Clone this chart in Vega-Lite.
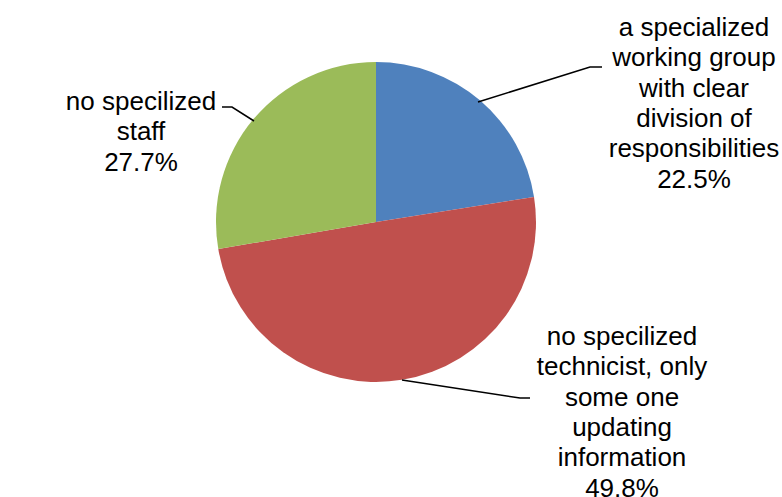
{
  "$schema": "https://vega.github.io/schema/vega-lite/v6.json",
  "autosize": "none",
  "width": 752,
  "height": 444,
  "padding": {"left": 0, "top": 0, "right": 30, "bottom": 53},
  "background": "white",
  "config": {"view": {"stroke": null}},
  "datasets": {
    "pie": [
      {"category": "a specialized working group with clear division of responsibilities", "share": 22.5, "idx": 1},
      {"category": "no specilized technicist, only some one updating information", "share": 49.8, "idx": 2},
      {"category": "no specilized staff", "share": 27.7, "idx": 3}
    ],
    "leaders": [
      {"seg": "a", "step": 1, "u": 0.6375, "v": 0.75},
      {"seg": "a", "step": 2, "u": 1.3375, "v": 0.96875},
      {"seg": "a", "step": 3, "u": 1.4125, "v": 0.96875},
      {"seg": "b", "step": 1, "u": 0.1625, "v": -0.9875},
      {"seg": "b", "step": 2, "u": 0.9, "v": -1.1},
      {"seg": "b", "step": 3, "u": 0.9625, "v": -1.1},
      {"seg": "c", "step": 1, "u": -0.7625, "v": 0.63125},
      {"seg": "c", "step": 2, "u": -0.9, "v": 0.71875},
      {"seg": "c", "step": 3, "u": -0.9625, "v": 0.71875}
    ],
    "labels": [
      {"u": 1.9875, "v": 1.2125, "label": "a specialized\nworking group\nwith clear\ndivision of\nresponsibilities\n22.5%"},
      {"u": 1.5375, "v": -0.7188, "label": "no specilized\ntechnicist, only\nsome one\nupdating\ninformation\n49.8%"},
      {"u": -1.46875, "v": 0.75, "label": "no specilized\nstaff\n27.7%"}
    ]
  },
  "layer": [
    {
      "data": {"name": "pie"},
      "mark": {"type": "arc", "outerRadius": 160},
      "encoding": {
        "theta": {"field": "share", "type": "quantitative", "stack": true},
        "order": {"field": "idx", "type": "quantitative"},
        "color": {
          "field": "category",
          "type": "nominal",
          "legend": null,
          "scale": {
            "domain": [
              "a specialized working group with clear division of responsibilities",
              "no specilized technicist, only some one updating information",
              "no specilized staff"
            ],
            "range": ["#4F81BD", "#C0504D", "#9BBB59"]
          }
        }
      }
    },
    {
      "data": {"name": "leaders"},
      "mark": {"type": "line", "color": "black", "strokeWidth": 1.5},
      "encoding": {
        "x": {"field": "u", "type": "quantitative", "axis": null, "scale": {"domain": [-2.35, 2.35], "nice": false, "zero": false}},
        "y": {"field": "v", "type": "quantitative", "axis": null, "scale": {"domain": [-1.3875, 1.3875], "nice": false, "zero": false}},
        "detail": {"field": "seg", "type": "nominal"},
        "order": {"field": "step", "type": "quantitative"}
      }
    },
    {
      "data": {"name": "labels"},
      "mark": {"type": "text", "font": "Liberation Sans", "fontSize": 26, "lineHeight": 30.3, "lineBreak": "\n", "align": "center", "baseline": "middle", "color": "black"},
      "encoding": {
        "x": {"field": "u", "type": "quantitative", "axis": null, "scale": {"domain": [-2.35, 2.35], "nice": false, "zero": false}},
        "y": {"field": "v", "type": "quantitative", "axis": null, "scale": {"domain": [-1.3875, 1.3875], "nice": false, "zero": false}},
        "text": {"field": "label", "type": "nominal"}
      }
    }
  ]
}
